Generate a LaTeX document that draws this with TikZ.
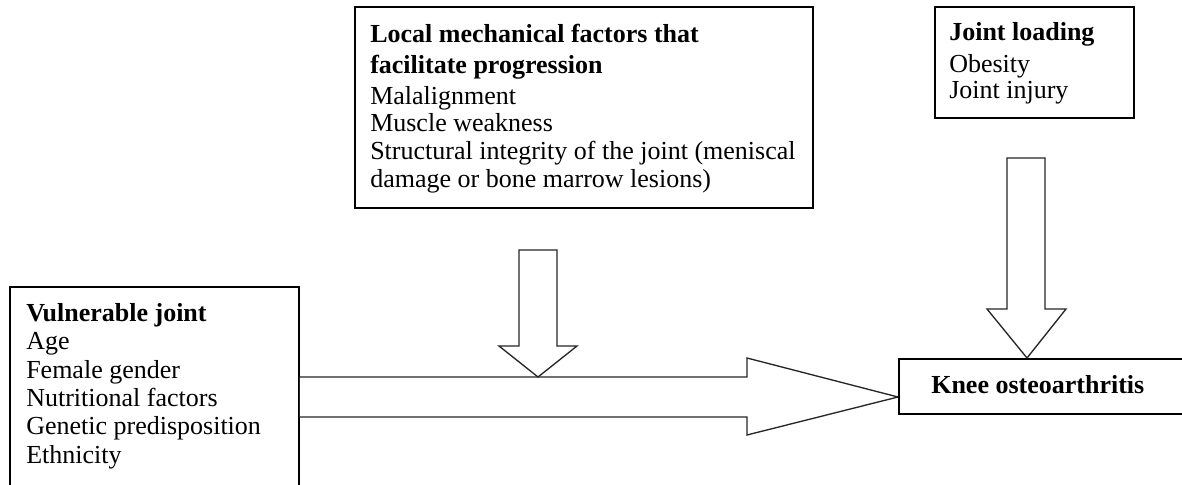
\documentclass[tikz,border=0pt]{standalone}
\usepackage{fontspec}
\setmainfont{Liberation Serif}

\begin{document}
\begin{tikzpicture}[x=0.75pt,y=-0.75pt,
    box/.style={draw,line width=1.4pt,inner sep=0pt,anchor=north west},
    txt/.style={inner sep=0pt,align=left,font=\fontsize{19.5}{21.3}\selectfont},
    blockarrow/.style={draw=black!85,line width=1pt,fill=white,line join=miter}]
    \useasboundingbox[fill=white] (0,0) rectangle (1182,485);
    % boxes
    \node[box,minimum width=216.75pt,minimum height=153pt] (vuln) at (9,286) {};
    \node[box,minimum width=343.5pt,minimum height=150.75pt] (mech) at (354,6) {};
    \node[box,minimum width=149.25pt,minimum height=83.25pt] (load) at (934,6) {};
    \node[txt,anchor=north west] (vulntxt) at (26,303) {\textbf{Vulnerable joint}\\Age\\Female gender\\Nutritional factors\\Genetic predisposition\\Ethnicity};
    \node[txt,anchor=north west] (mechtxt) at (370,24.4) {\textbf{Local mechanical factors that}\\[1.6pt]\textbf{facilitate progression}\\[1.6pt]Malalignment\\[-0.5pt]Muscle weakness\\[-0.5pt]Structural integrity of the joint (meniscal\\[-0.5pt]damage or bone marrow lesions)};
    \node[txt,anchor=north west] (loadtxt) at (949,22.4) {\textbf{Joint loading}\\[2.5pt]Obesity\\[-2pt]Joint injury};
    % block arrows
    \coordinate (mtail) at (538,250);
    \coordinate (mtip) at (538,377);
    \coordinate (ltail) at (1026,158);
    \draw[blockarrow] (vuln.east |- 0,377) -- (747,377) -- (747,358) -- (898,397)
        -- (747,435) -- (747,417) -- (vuln.east |- 0,417);
    \draw[blockarrow] (519,250) -- (519,346) -- (499,346) -- (mtip) -- (577,346)
        -- (557,346) -- (557,250) -- cycle;
    \node[box,minimum width=219pt,minimum height=41.25pt] (knee) at (898,358) {};
    \node[txt,anchor=base west,font=\fontsize{19.5}{21.3}\selectfont\bfseries] (kneetxt) at (931,393) {Knee osteoarthritis};
    \draw[blockarrow] (1007,158) -- (1007,309) -- (987,309) -- (1027,0 |- knee.north)
        -- (1066,309) -- (1045,309) -- (1045,158) -- cycle;
\end{tikzpicture}
\end{document}
